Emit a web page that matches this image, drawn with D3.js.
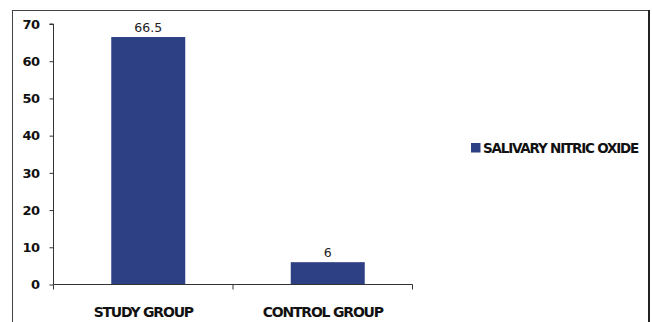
<!DOCTYPE html>
<html><head><meta charset="utf-8">
<script src="https://cdn.jsdelivr.net/npm/d3@7"></script>
<style>
html,body{margin:0;padding:0;background:#fff;}
svg{display:block;}
</style></head>
<body>
<script>
const categories = ["STUDY GROUP", "CONTROL GROUP"];
const values = [66.5, 6];
const valueLabels = ["66.5", "6"];
const seriesName = "SALIVARY NITRIC OXIDE";
const yTicks = [0, 10, 20, 30, 40, 50, 60, 70];

const W = 652, H = 322;
const svg = d3.select("body").append("svg").attr("width", W).attr("height", H);

// outer frame
svg.append("rect").attr("x", 12.5).attr("y", 10.5).attr("width", 636).attr("height", 330)
  .attr("fill", "none").attr("stroke", "#444").attr("stroke-width", 1);
svg.append("line").attr("x1", 649).attr("x2", 649).attr("y1", 10).attr("y2", 322)
  .attr("stroke", "#222").attr("stroke-width", 2);

const plot = {left: 53.5, right: 412.5, top: 24, bottom: 284.5};
const x = d3.scaleBand().domain(categories).range([plot.left, plot.right]).paddingInner(0).paddingOuter(0);
const y = d3.scaleLinear().domain([0, 70]).range([plot.bottom, plot.top]);
const barW = 74, barShift = 5;

// bars
svg.selectAll("rect.bar").data(values).enter().append("rect")
  .attr("class", "bar")
  .attr("x", (d, i) => x(categories[i]) + x.bandwidth() / 2 - barW / 2 + barShift)
  .attr("y", d => y(d))
  .attr("width", barW)
  .attr("height", d => y(0) - y(d))
  .attr("fill", "#2E4084");

// value labels
svg.selectAll("text.val").data(values).enter().append("text")
  .attr("class", "val")
  .attr("x", (d, i) => x(categories[i]) + x.bandwidth() / 2 + barShift)
  .attr("y", d => y(d) - 5)
  .attr("text-anchor", "middle")
  .attr("font-family", "DejaVu Sans, sans-serif")
  .attr("font-size", "12.5px")
  .attr("fill", "#222")
  .text((d, i) => valueLabels[i]);

// y axis
const yAxis = d3.axisLeft(y).tickValues(yTicks).tickSize(4).tickPadding(10).tickFormat(d3.format("d"));
const gy = svg.append("g").attr("transform", `translate(${plot.left},0)`).call(yAxis);
gy.select(".domain").attr("stroke", "#333").attr("d", `M-4,${plot.top}H0V${plot.bottom}`);
gy.selectAll(".tick line").attr("stroke", "#333");
gy.selectAll(".tick text").attr("font-family", "DejaVu Sans, sans-serif").attr("font-weight", "bold")
  .attr("font-size", "13px").attr("letter-spacing", "-0.5px").attr("fill", "#111");

// x axis
const gx = svg.append("g").attr("transform", `translate(0,${plot.bottom})`);
gx.append("line").attr("x1", plot.left).attr("x2", plot.right).attr("y1", 0).attr("y2", 0).attr("stroke", "#333");
const boundaries = [plot.left].concat(categories.map(c => x(c) + x.bandwidth()));
gx.selectAll("line.bt").data(boundaries).enter().append("line").attr("class", "bt")
  .attr("x1", d => d).attr("x2", d => d).attr("y1", 0).attr("y2", 5).attr("stroke", "#333");
gx.selectAll("text.cat").data(categories).enter().append("text").attr("class", "cat")
  .attr("x", d => x(d) + x.bandwidth() / 2)
  .attr("y", 32)
  .attr("text-anchor", "middle")
  .attr("font-family", "DejaVu Sans, sans-serif")
  .attr("font-weight", "bold")
  .attr("font-size", "14px")
  .attr("letter-spacing", "-1.2px")
  .attr("fill", "#111")
  .text(d => d);

// legend
const lg = svg.append("g").attr("transform", "translate(471,143)");
lg.append("rect").attr("width", 9.5).attr("height", 9.5).attr("fill", "#2E4084");
lg.append("text").attr("x", 12).attr("y", 9.8)
  .attr("font-family", "DejaVu Sans, sans-serif").attr("font-weight", "bold")
  .attr("font-size", "13.5px").attr("letter-spacing", "-1.2px").attr("fill", "#111")
  .text(seriesName);
</script>
</body></html>
